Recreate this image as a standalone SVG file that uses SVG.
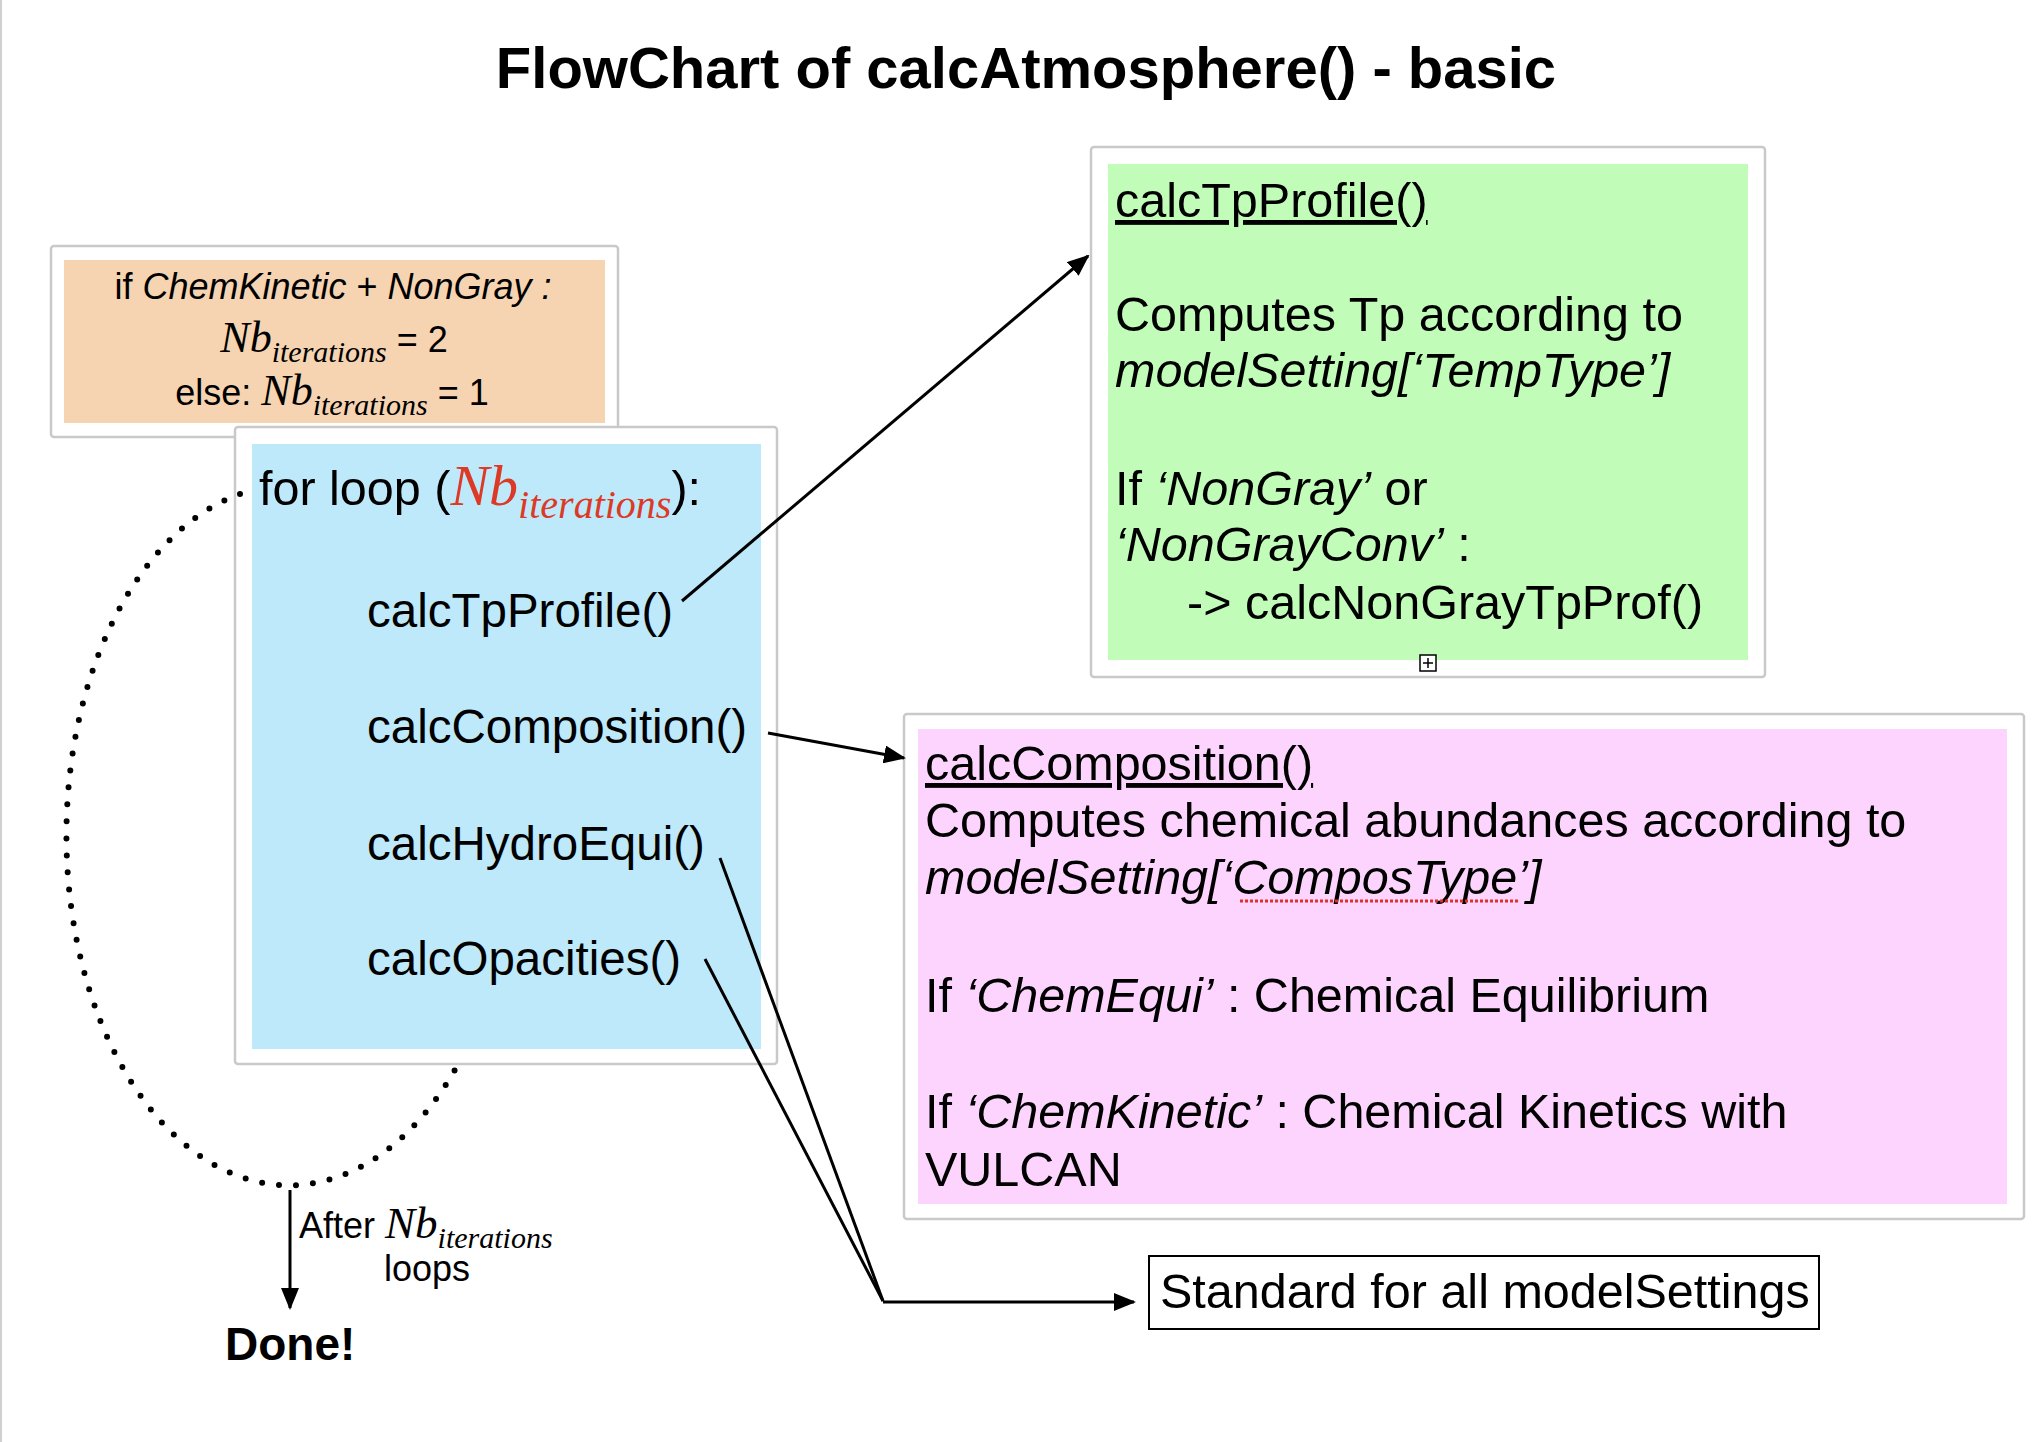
<svg xmlns="http://www.w3.org/2000/svg" width="2040" height="1442" viewBox="0 0 2040 1442">
<defs>
<style>
.t{font-family:"Liberation Sans",Arial,sans-serif;fill:#000}
.m{font-size:48.5px}
.b{font-size:47.5px}
.s{font-size:36px}
.i{font-style:italic}
.nb{font-family:"Liberation Serif","Times New Roman",serif;font-style:italic}
.frame{fill:#fff;stroke:#c9c9c9;stroke-width:2.5}
.conn{stroke:#000;stroke-width:3;fill:none}
.dots{stroke:#000;fill:none;stroke-width:6;stroke-linecap:round;stroke-dasharray:0 17}
</style>
<marker id="ah" markerUnits="userSpaceOnUse" markerWidth="22" markerHeight="18" refX="20" refY="9" orient="auto">
<path d="M0,0 L22,9 L0,18 Z" fill="#000"/>
</marker>
</defs>
<rect width="2040" height="1442" fill="#fff"/>
<line x1="1" y1="0" x2="1" y2="1442" stroke="#d0d0d0" stroke-width="2"/>

<text id="title" class="t" x="1026" y="88" text-anchor="middle" font-size="58" font-weight="bold">FlowChart of calcAtmosphere() - basic</text>

<g id="node-init">
<rect class="frame" x="51" y="246" width="567" height="191" rx="3"/>
<rect x="64" y="260" width="541" height="163" fill="#F6D4B1"/>
<text class="t s" x="333" y="299" text-anchor="middle">if <tspan class="i">ChemKinetic</tspan> + <tspan class="i">NonGray :</tspan></text>
<text class="t s" x="334" y="352" text-anchor="middle"><tspan class="nb" font-size="44">Nb</tspan><tspan class="nb" font-size="30" dy="10">iterations</tspan><tspan dy="-10"> = 2</tspan></text>
<text class="t s" x="332" y="405" text-anchor="middle">else: <tspan class="nb" font-size="44">Nb</tspan><tspan class="nb" font-size="30" dy="10">iterations</tspan><tspan dy="-10"> = 1</tspan></text>
</g>

<g id="node-loop">
<rect class="frame" x="235" y="427" width="542" height="637" rx="3"/>
<rect x="252" y="444" width="509" height="605" fill="#BDE9FA"/>
<text class="t m" x="259" y="505">for loop (<tspan class="nb" font-size="58" fill="#DC3A26">Nb</tspan><tspan class="nb" font-size="40" fill="#DC3A26" dy="13">iterations</tspan><tspan dy="-13">):</tspan></text>
<text class="t b" x="367" y="627">calcTpProfile()</text>
<text class="t b" x="367" y="743">calcComposition()</text>
<text class="t b" x="367" y="860">calcHydroEqui()</text>
<text class="t b" x="367" y="975">calcOpacities()</text>
</g>

<g id="node-tp">
<rect class="frame" x="1091" y="147" width="674" height="530" rx="3"/>
<rect x="1108" y="164" width="640" height="496" fill="#C1FDB9"/>
<text class="t m" x="1115" y="217" text-decoration="underline">calcTpProfile()</text>
<text class="t m" x="1115" y="331">Computes Tp according to</text>
<text class="t m i" x="1115" y="387">modelSetting[‘TempType’]</text>
<text class="t m" x="1115" y="505">If <tspan class="i">‘NonGray’</tspan> or</text>
<text class="t m" x="1115" y="561"><tspan class="i">‘NonGrayConv’</tspan> :</text>
<text class="t m" x="1187" y="619">-&gt; calcNonGrayTpProf()</text>
<rect x="1420" y="655" width="16" height="16" fill="#fff" stroke="#000" stroke-width="1.5"/>
<path d="M1428,658 V668 M1423,663 H1433" stroke="#000" stroke-width="1.5"/>
</g>

<g id="node-comp">
<rect class="frame" x="904" y="714" width="1120" height="505" rx="3"/>
<rect x="918" y="729" width="1089" height="475" fill="#FDD4FD"/>
<text class="t m" x="925" y="780" text-decoration="underline">calcComposition()</text>
<text class="t m" x="925" y="837">Computes chemical abundances according to</text>
<text class="t m i" x="925" y="894">modelSetting[‘ComposType’]</text>
<line x1="1240" y1="901" x2="1518" y2="901" stroke="#E0302A" stroke-width="3" stroke-dasharray="3 2"/>
<text class="t m" x="925" y="1012">If <tspan class="i">‘ChemEqui’</tspan> : Chemical Equilibrium</text>
<text class="t m" x="925" y="1128">If <tspan class="i">‘ChemKinetic’</tspan> : Chemical Kinetics with</text>
<text class="t m" x="925" y="1186">VULCAN</text>
</g>

<g id="node-standard">
<rect x="1149" y="1256" width="670" height="73" fill="#fff" stroke="#000" stroke-width="2"/>
<text class="t m" x="1160" y="1308">Standard for all modelSettings</text>
</g>

<g id="node-done">
<text class="t" x="225" y="1360" font-size="46" font-weight="bold">Done!</text>
</g>

<g id="connectors">
<path class="dots" d="M240,494 A223,350 0 1 0 456,1068"/>
<line class="conn" x1="682" y1="601" x2="1088" y2="256" marker-end="url(#ah)"/>
<line class="conn" x1="768" y1="733" x2="904" y2="758" marker-end="url(#ah)"/>
<line class="conn" x1="720" y1="858" x2="883" y2="1301"/>
<line class="conn" x1="705" y1="959" x2="883" y2="1301"/>
<line class="conn" x1="883" y1="1302" x2="1134" y2="1302" marker-end="url(#ah)"/>
<line class="conn" x1="290" y1="1190" x2="290" y2="1308" marker-end="url(#ah)"/>
<text class="t s" x="299" y="1238">After <tspan class="nb" font-size="45">Nb</tspan><tspan class="nb" font-size="30" dy="10">iterations</tspan></text>
<text class="t s" x="427" y="1281" text-anchor="middle">loops</text>
</g>
</svg>
